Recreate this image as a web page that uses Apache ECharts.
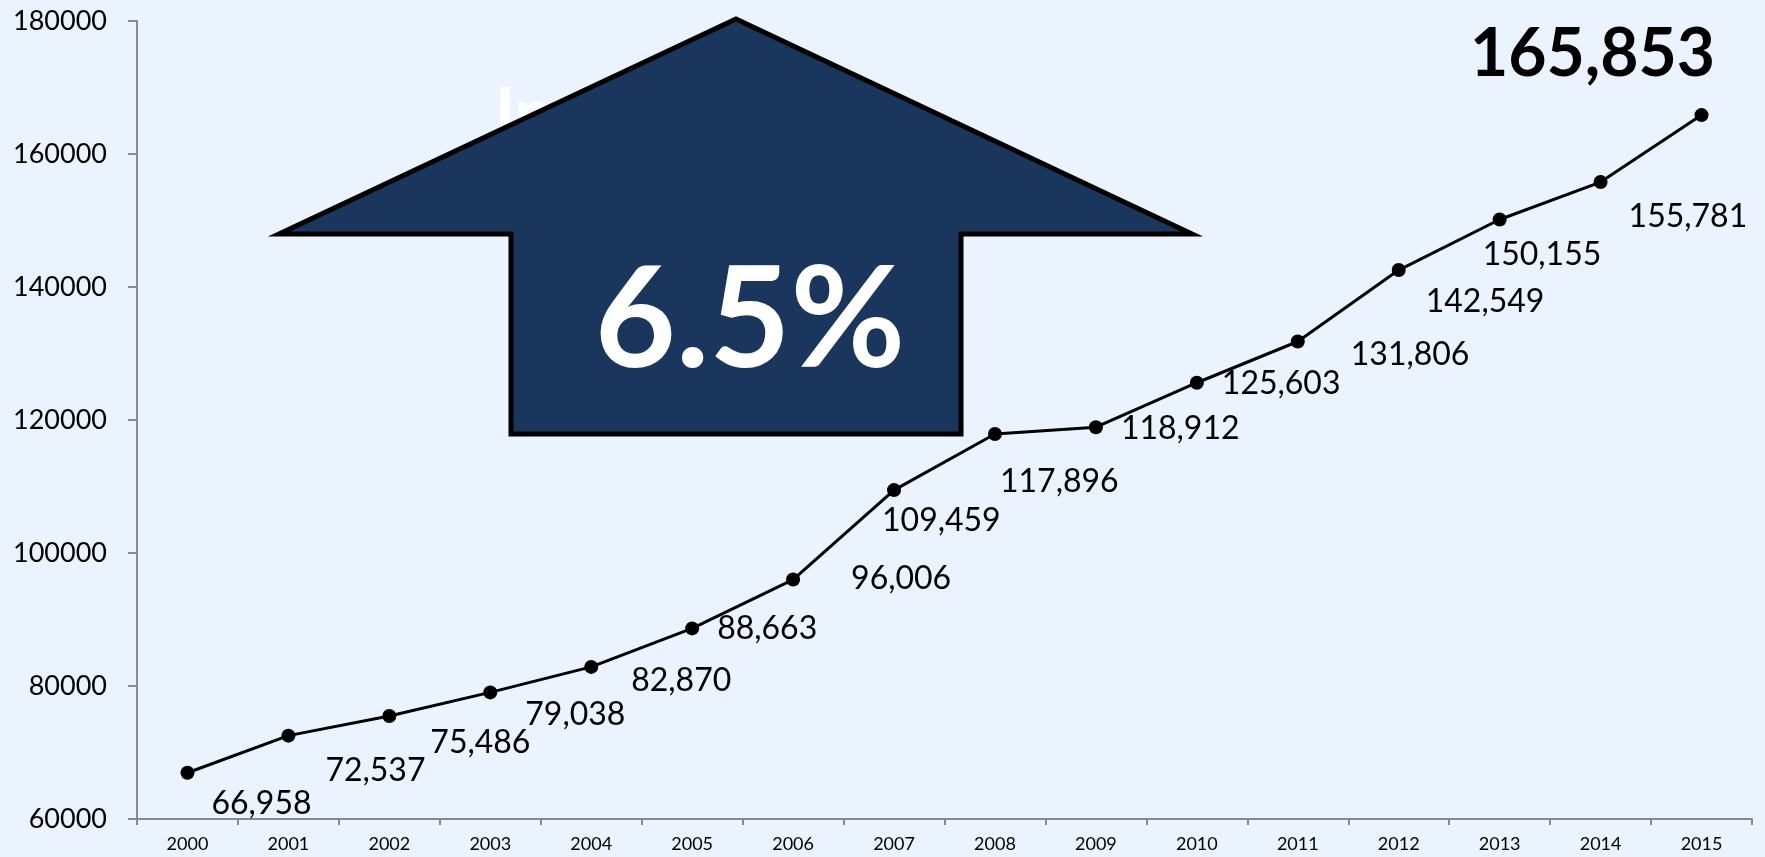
<!DOCTYPE html>
<html><head><meta charset="utf-8">
<script src="https://cdn.jsdelivr.net/npm/echarts@6/dist/echarts.min.js"></script>
<style>html,body{margin:0;padding:0;background:#EAF3FE}#c{width:1765px;height:857px}</style>
</head><body><div id="c"></div>
<script>
// ---- data ----
const years = ['2000','2001','2002','2003','2004','2005','2006','2007','2008','2009','2010','2011','2012','2013','2014','2015'];
const values = [66958, 72537, 75486, 79038, 82870, 88663, 96006, 109459, 117896, 118912, 125603, 131806, 142549, 150155, 155781, 165853];
const yMin = 60000, yMax = 180000, yStep = 20000;
const growthText = '6.5%';
const hiddenCaption = 'In';

// ---- label placement (style, px relative to each point) ----
const labelOffsets = [[24,31],[37,35],[41,27],[35,22],[40,14],[25,0],[58,-1],[-12,31],[5,48],[25,1],[25,1],[53,13],[27,32],[-17,35],[28,35],[-109,-60]];

const FONT = 'Lato, "Open Sans", sans-serif';
const chart = echarts.init(document.getElementById('c'), null, {renderer: 'canvas'});
const fmt = v => Number(v).toLocaleString('en-US');
const lastIdx = values.length - 1;

chart.setOption({
  backgroundColor: '#EAF3FE',
  animation: false,
  grid: {left: 137, right: 13, top: 21, bottom: 38, containLabel: false},
  xAxis: {
    type: 'category',
    data: years,
    boundaryGap: true,
    axisLine: {lineStyle: {color: '#8A8A8A', width: 2}},
    axisTick: {show: true, length: 6, lineStyle: {color: '#8A8A8A', width: 2}},
    axisLabel: {color: '#000', fontFamily: FONT, fontSize: 18, margin: 16}
  },
  yAxis: {
    type: 'value',
    min: yMin, max: yMax, interval: yStep,
    axisLine: {show: true, lineStyle: {color: '#8A8A8A', width: 2}},
    axisTick: {show: true, length: 9, lineStyle: {color: '#8A8A8A', width: 2}},
    splitLine: {show: false},
    axisLabel: {color: '#000', fontFamily: FONT, fontSize: 27, margin: 30, formatter: v => String(v)}
  },
  series: [{
    type: 'line',
    data: values.map((v, i) => ({
      value: v,
      label: i === lastIdx
        ? {offset: labelOffsets[i], align: 'center', fontSize: 66, fontWeight: 'bold'}
        : {offset: labelOffsets[i]}
    })),
    symbol: 'circle',
    symbolSize: 14,
    itemStyle: {color: '#000'},
    lineStyle: {color: '#000', width: 3},
    z: 5,
    label: {
      show: true,
      position: 'inside',
      align: 'left',
      verticalAlign: 'middle',
      color: '#000',
      fontFamily: FONT,
      fontSize: 32,
      formatter: p => fmt(p.value)
    }
  }],
  graphic: [
    {type: 'text', z: 10, left: 495, top: 81,
     style: {text: hiddenCaption, fill: '#FFFFFF', font: 'bold 68px ' + FONT}},
    {type: 'polygon', z: 20,
     shape: {points: [[736,19],[1192,234],[961,234],[961,434],[511,434],[511,234],[279,234]]},
     style: {fill: '#1B365D', stroke: '#000', lineWidth: 5, lineJoin: 'miter'}},
    {type: 'text', z: 30, x: 750, y: 322,
     style: {text: growthText, fill: '#FFFFFF', font: 'bold 140px ' + FONT, textAlign: 'center', textVerticalAlign: 'middle'}}
  ]
});
</script></body></html>
